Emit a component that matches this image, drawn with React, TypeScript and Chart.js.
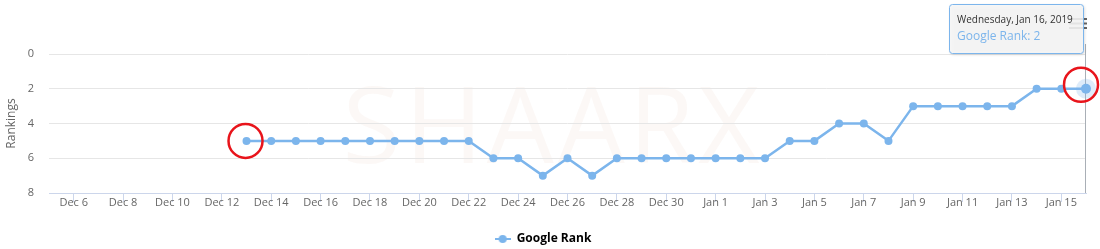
import React, { useEffect, useRef } from "react";
import { Chart, registerables } from "chart.js";

Chart.register(...registerables);

// ---- data ----
const dayLabels: string[] = [
  "Dec 5", "Dec 6", "Dec 7", "Dec 8", "Dec 9", "Dec 10", "Dec 11", "Dec 12",
  "Dec 13", "Dec 14", "Dec 15", "Dec 16", "Dec 17", "Dec 18", "Dec 19", "Dec 20",
  "Dec 21", "Dec 22", "Dec 23", "Dec 24", "Dec 25", "Dec 26", "Dec 27", "Dec 28",
  "Dec 29", "Dec 30", "Dec 31", "Jan 1", "Jan 2", "Jan 3", "Jan 4", "Jan 5",
  "Jan 6", "Jan 7", "Jan 8", "Jan 9", "Jan 10", "Jan 11", "Jan 12", "Jan 13",
  "Jan 14", "Jan 15", "Jan 16",
];

const rankValues: (number | null)[] = [
  null, null, null, null, null, null, null, null,
  5, 5, 5, 5, 5, 5, 5, 5, 5, 5,
  6, 6, 7, 6, 7, 6, 6, 6, 6, 6, 6, 6,
  5, 5, 4, 4, 5, 3, 3, 3, 3, 3, 2, 2, 2,
];

const yTickValues: number[] = [0, 2, 4, 6, 8];
const seriesName = "Google Rank";
const yAxisTitle = "Rankings";
const tooltipTitle = "Wednesday, Jan 16, 2019";
const watermarkText = "SHAARX";
const highlightedIndices: number[] = [8, 42];

const SERIES_COLOR = "#7cb5ec";
const FONT = '"Open Sans", "Noto Sans", sans-serif';

function makeLegendIcon(): HTMLCanvasElement {
  const c = document.createElement("canvas");
  c.width = 16;
  c.height = 10;
  const ctx = c.getContext("2d")!;
  ctx.strokeStyle = SERIES_COLOR;
  ctx.lineWidth = 2;
  ctx.beginPath();
  ctx.moveTo(0, 5);
  ctx.lineTo(16, 5);
  ctx.stroke();
  ctx.fillStyle = SERIES_COLOR;
  ctx.beginPath();
  ctx.arc(8, 5, 4, 0, Math.PI * 2);
  ctx.fill();
  return c;
}

const decorPlugin = {
  id: "decor",
  beforeDraw(chart: any) {
    const ctx = chart.ctx;
    ctx.save();
    ctx.font = `106px ${FONT}`;
    ctx.fillStyle = "rgba(240, 222, 208, 0.2)";
    ctx.textAlign = "center";
    ctx.textBaseline = "alphabetic";
    try { (ctx as any).letterSpacing = "4px"; } catch (e) {}
    ctx.fillText(watermarkText, 553, 163);
    ctx.restore();
  },
  beforeDatasetsDraw(chart: any) {
    const ctx = chart.ctx;
    const area = chart.chartArea;
    const meta = chart.getDatasetMeta(0);
    const last = meta.data[rankValues.length - 1];
    if (!last) return;
    ctx.save();
    ctx.strokeStyle = "#a9afb6";
    ctx.lineWidth = 1;
    ctx.beginPath();
    const x = Math.round(last.x) - 0.5;
    ctx.moveTo(x, 44);
    ctx.lineTo(x, area.bottom);
    ctx.stroke();
    ctx.restore();
  },
  afterDatasetsDraw(chart: any) {
    const ctx = chart.ctx;
    const meta = chart.getDatasetMeta(0);
    const last = meta.data[rankValues.length - 1];
    if (!last) return;
    ctx.save();
    ctx.fillStyle = "rgba(124,181,236,0.25)";
    ctx.beginPath();
    ctx.arc(last.x, last.y, 10, 0, Math.PI * 2);
    ctx.fill();
    ctx.fillStyle = SERIES_COLOR;
    ctx.beginPath();
    ctx.arc(last.x, last.y, 5, 0, Math.PI * 2);
    ctx.fill();
    ctx.restore();
  },
  afterDraw(chart: any) {
    const ctx = chart.ctx;
    const meta = chart.getDatasetMeta(0);
    const lastIdx = rankValues.length - 1;
    const last = meta.data[lastIdx];

    // export menu icon
    ctx.save();
    ctx.strokeStyle = "#666666";
    ctx.lineWidth = 2;
    for (const yy of [19, 23.5, 28]) {
      ctx.beginPath();
      ctx.moveTo(1069, yy);
      ctx.lineTo(1087, yy);
      ctx.stroke();
    }
    ctx.restore();

    // tooltip
    if (last) {
      const bx = 949.5, by = 4.5, bw = 134, bh = 49;
      ctx.save();
      ctx.shadowColor = "rgba(0,0,0,0.18)";
      ctx.shadowOffsetX = 1;
      ctx.shadowOffsetY = 1;
      ctx.shadowBlur = 3;
      ctx.fillStyle = "rgba(247,247,247,0.88)";
      ctx.beginPath();
      (ctx as any).roundRect(bx, by, bw, bh, 3);
      ctx.fill();
      ctx.shadowColor = "transparent";
      ctx.strokeStyle = SERIES_COLOR;
      ctx.lineWidth = 1;
      ctx.stroke();
      ctx.textAlign = "left";
      ctx.textBaseline = "middle";
      ctx.fillStyle = "#333333";
      ctx.font = `10px ${FONT}`;
      ctx.fillText(tooltipTitle, 957, 20);
      ctx.fillStyle = SERIES_COLOR;
      ctx.font = `12px ${FONT}`;
      ctx.fillText(`${seriesName}: ${rankValues[lastIdx]}`, 957, 37);
      ctx.restore();
    }

    // red annotation circles
    ctx.save();
    ctx.strokeStyle = "#e8141b";
    ctx.lineWidth = 2.5;
    highlightedIndices.forEach((i, k) => {
      const p = meta.data[i];
      if (!p) return;
      const dx = k === 0 ? -1 : -5;
      const dy = k === 0 ? 0 : -4;
      ctx.beginPath();
      ctx.arc(p.x + dx, p.y + dy, 17, 0, Math.PI * 2);
      ctx.stroke();
    });
    ctx.restore();
  },
};

export default function App() {
  const canvasRef = useRef<HTMLCanvasElement | null>(null);

  useEffect(() => {
    document.body.style.margin = "0";
    const canvas = canvasRef.current;
    if (!canvas) return;
    const legendIcon = makeLegendIcon();
    const chart = new Chart(canvas, {
      type: "line",
      data: {
        labels: dayLabels,
        datasets: [
          {
            label: seriesName,
            data: rankValues,
            borderColor: SERIES_COLOR,
            backgroundColor: SERIES_COLOR,
            pointBackgroundColor: SERIES_COLOR,
            pointBorderWidth: 0,
            pointRadius: 4,
            borderWidth: 2.5,
            tension: 0,
            spanGaps: false,
          },
        ],
      },
      options: {
        animation: false,
        responsive: false,
        devicePixelRatio: 1,
        layout: { padding: { left: 0, right: 14, top: 54, bottom: -6 } },
        plugins: {
          tooltip: { enabled: false },
          legend: {
            position: "bottom",
            labels: {
              padding: 5,
              usePointStyle: true,
              pointStyleWidth: 16,
              color: "#333333",
              font: { family: FONT, size: 12, weight: "bold" },
              generateLabels: () => [
                {
                  text: seriesName,
                  pointStyle: legendIcon as any,
                  fillStyle: SERIES_COLOR,
                  strokeStyle: SERIES_COLOR,
                  lineWidth: 0,
                  datasetIndex: 0,
                  hidden: false,
                } as any,
              ],
            },
          },
        },
        scales: {
          x: {
            type: "category",
            offset: false,
            grid: {
              display: true,
              drawOnChartArea: false,
              drawTicks: true,
              tickLength: 9,
              color: "#ccd6eb",
            },
            border: { display: true, color: "#ccd6eb", width: 1 },
            ticks: {
              autoSkip: false,
              maxRotation: 0,
              minRotation: 0,
              padding: -6,
              color: "#666666",
              font: { family: FONT, size: 11 },
              callback: (_v: any, i: number) => (i % 2 === 1 ? dayLabels[i] : null),
            },
            afterFit: (scale: any) => {
              scale.height = 35;
            },
          },
          y: {
            reverse: true,
            min: yTickValues[0],
            max: yTickValues[yTickValues.length - 1],
            grid: { color: "#e6e6e6", drawTicks: false },
            border: { display: false },
            ticks: {
              stepSize: 2,
              padding: 15,
              color: "#666666",
              font: { family: FONT, size: 11 },
            },
            title: {
              display: true,
              text: yAxisTitle,
              color: "#666666",
              font: { family: FONT, size: 12 },
            },
            afterFit: (scale: any) => {
              scale.width = 49;
            },
          },
        },
      },
      plugins: [decorPlugin],
    });
    return () => chart.destroy();
  }, []);

  return (
    <div style={{ width: 1100, height: 249, background: "#ffffff" }}>
      <canvas ref={canvasRef} width={1100} height={249} />
    </div>
  );
}
